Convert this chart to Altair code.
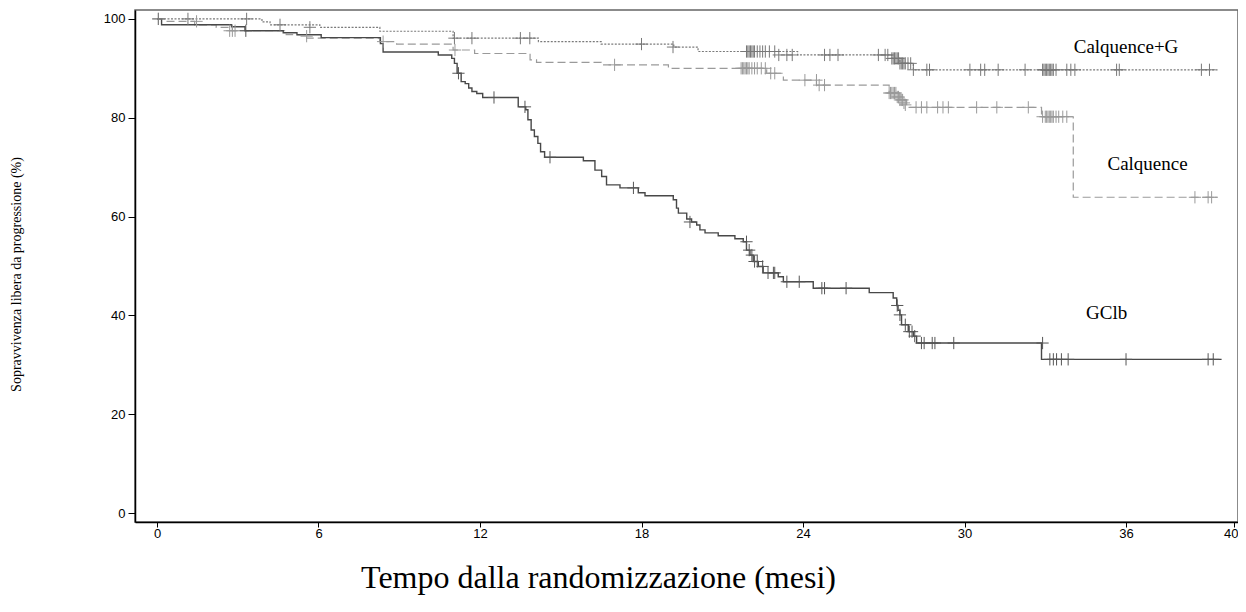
import altair as alt
import pandas as pd

# ---------------- data ----------------
X_TICKS = [0, 6, 12, 18, 24, 30, 36, 40]
Y_TICKS = [0, 20, 40, 60, 80, 100]

# GClb (solid)
gclb_t = [0, 0.17, 2.77, 3.27, 4.69, 5.2, 6.1, 8.3, 8.4, 10.45, 10.95, 11.05, 11.15,
          11.3, 11.45, 11.58, 11.7, 11.88, 12.1, 13.42, 13.7, 13.78, 13.9, 14.02,
          14.15, 14.25, 14.4, 15.84, 16.27, 16.52, 16.7, 17.2, 17.88, 18.13, 19.18,
          19.3, 19.37, 19.68, 19.86, 20.05, 20.17, 20.36, 20.85, 21.47, 21.78, 21.9,
          22.03, 22.15, 22.34, 22.52, 23.08, 23.27, 24.38, 26.46, 27.35, 27.48,
          27.53, 27.6, 27.66, 27.91, 28.1, 28.22, 32.86, 39.55]
gclb_s = [100, 98.8, 98.4, 97.6, 97.2, 96.8, 96.2, 95.0, 93.3, 92.7, 92.0, 91.0, 89.0,
          87.3, 86.9, 86.0, 85.3, 84.9, 84.1, 82.2, 81.6, 79.6, 77.5, 76.2,
          74.8, 73.1, 72.0, 71.3, 69.4, 68.1, 66.4, 65.8, 64.8, 64.2, 63.4,
          61.7, 60.7, 59.5, 58.9, 58.3, 57.3, 56.7, 56.1, 55.5, 54.9, 53.2,
          52.2, 50.9, 49.9, 48.6, 47.8, 46.8, 45.5, 44.6, 43.5, 42.0,
          41.0, 40.1, 38.1, 36.7, 35.8, 34.4, 31.1, 31.1]
gclb_cens_t = [3.3, 11.2, 12.52, 13.67, 14.6, 17.7, 19.8, 21.9, 22.0, 22.1, 22.2, 22.3,
               22.5, 22.7, 22.9, 22.95, 23.4, 23.86, 24.7, 24.8, 25.6, 27.5, 27.6, 27.8,
               27.95, 28.05, 28.15, 28.4, 28.5, 28.8, 28.9, 29.6, 32.9, 33.17, 33.3,
               33.42, 33.6, 33.85, 36.0, 39.05, 39.24]
gclb_cens_s = [97.6, 89.0, 84.1, 82.2, 72.0, 65.8, 58.9, 54.9, 53.2, 52.2, 50.9, 50.9,
               49.9, 48.6, 48.6, 48.6, 46.8, 46.8, 45.5, 45.5, 45.5, 42.0, 40.1, 38.1,
               36.7, 36.7, 35.8, 34.4, 34.4, 34.4, 34.4, 34.4, 34.4, 31.1, 31.1,
               31.1, 31.1, 31.1, 31.1, 31.1, 31.1]

# Calquence+G (dotted)
cg_t = [0, 3.9, 4.2, 6.05, 8.28, 11.0, 14.17, 16.5, 19.2, 20.1, 23.8, 27.3, 27.6, 28.1, 39.4]
cg_s = [100, 99.4, 98.8, 98.3, 97.5, 96.1, 95.4, 94.9, 94.3, 93.4, 92.7, 92.0, 91.0, 89.7, 89.7]
cg_cens_t = [0.05, 1.15, 3.33, 4.57, 5.68, 11.05, 11.7, 13.5, 13.85, 18.0, 19.17,
             21.9, 21.95, 22.0, 22.05, 22.1, 22.15, 22.2, 22.3, 22.4, 22.5, 22.6, 22.75,
             22.95, 23.1, 23.4, 23.6, 24.8, 25.0, 25.3, 26.8, 27.05, 27.15, 27.3, 27.35,
             27.4, 27.45, 27.5, 27.55, 27.6, 27.65, 27.7, 27.75, 27.8, 27.9, 28.0, 28.1,
             28.6, 28.7, 30.2, 30.6, 30.75, 31.25, 32.25, 32.9, 32.95, 33.0, 33.05,
             33.1, 33.15, 33.2, 33.25, 33.3, 33.4, 33.8, 33.95, 34.1, 35.65, 35.75,
             38.8, 39.1]
cg_cens_s = [100, 100, 100, 98.8, 98.3, 96.1, 96.1, 96.1, 96.1, 94.9, 94.3,
             93.4, 93.4, 93.4, 93.4, 93.4, 93.4, 93.4, 93.4, 93.4, 93.4, 93.4, 93.4,
             93.4, 92.7, 92.7, 92.7, 92.7, 92.7, 92.7, 92.7, 92.7, 92.7, 92.0, 92.0,
             92.0, 92.0, 92.0, 92.0, 91.0, 91.0, 91.0, 91.0, 91.0, 91.0, 91.0, 89.7,
             89.7, 89.7, 89.7, 89.7, 89.7, 89.7, 89.7, 89.7, 89.7, 89.7, 89.7,
             89.7, 89.7, 89.7, 89.7, 89.7, 89.7, 89.7, 89.7, 89.7, 89.7, 89.7,
             89.7, 89.7]

# Calquence (dashed)
cq_t = [0, 0.3, 1.4, 2.2, 2.8, 4.8, 5.56, 8.28, 8.9, 11.0, 11.8, 13.86, 14.1, 16.5,
        19.0, 22.65, 23.27, 24.5, 27.2, 27.6, 27.85, 32.86, 34.04, 39.4]
cq_s = [100, 99.5, 98.8, 98.3, 97.6, 96.8, 96.1, 95.4, 94.9, 93.7, 93.0, 91.7, 91.2, 90.7,
        90.0, 89.0, 87.6, 86.6, 85.0, 83.6, 82.1, 80.2, 63.9, 63.9]
cq_cens_t = [0.05, 1.47, 2.7, 2.8, 2.9, 5.56, 8.4, 11.07, 17.0,
             21.7, 21.75, 21.8, 21.85, 21.9, 21.95, 22.0, 22.1, 22.2, 22.3, 22.45, 22.6,
             22.8, 22.95, 24.07, 24.5, 24.6, 24.8,
             27.2, 27.25, 27.3, 27.35, 27.4, 27.45, 27.5, 27.55, 27.6, 27.65, 27.7, 27.75, 27.8,
             28.2, 28.4, 28.6, 29.0, 29.2, 29.4, 30.45, 31.2, 32.37,
             32.9, 33.0, 33.05, 33.1, 33.15, 33.2, 33.25, 33.3, 33.4, 33.5, 33.65, 33.8,
             38.56, 39.05, 39.18]
cq_cens_s = [100, 99.5, 97.6, 97.6, 97.6, 96.5, 95.4, 93.7, 90.7,
             90.0, 90.0, 90.0, 90.0, 90.0, 90.0, 90.0, 90.0, 90.0, 90.0, 90.0, 90.0,
             89.0, 89.0, 87.6, 87.6, 86.6, 86.6,
             85.0, 85.0, 85.0, 85.0, 85.0, 85.0, 84.2, 84.2, 83.6, 83.6, 83.6, 83.0, 82.6,
             82.1, 82.1, 82.1, 82.1, 82.1, 82.1, 82.1, 82.1, 82.1,
             80.2, 80.2, 80.2, 80.2, 80.2, 80.2, 80.2, 80.2, 80.2, 80.2, 80.2, 80.2,
             63.9, 63.9, 63.9]

label_names = ["Calquence+G", "Calquence", "GClb"]
label_t = [36.0, 36.8, 35.28]
label_s = [93.06, 69.4, 39.2]

# ---------------- chart ----------------
x_scale = alt.Scale(domain=[-0.817, 40.16], nice=False, zero=False)
y_scale = alt.Scale(domain=[-1.82, 101.8], nice=False, zero=False)

x_axis = alt.Axis(values=X_TICKS, title="Tempo dalla randomizzazione (mesi)",
                  titleFont="Liberation Serif", titleFontSize=32, titleFontWeight="normal",
                  titleColor="#000", titleX=463, titleY=65, titleBaseline="alphabetic",
                  titleAlign="center", tickSize=5, labelPadding=0, format="d",
                  labelOffset={"condition": {"test": "datum.value === 40", "value": -3},
                               "value": 0})
y_axis = alt.Axis(values=Y_TICKS, title="Sopravvivenza libera da progressione (%)",
                  titleFont="Liberation Serif", titleFontSize=14, titleFontWeight="normal",
                  titleColor="#000", titleX=-118.5, titleY=264, titleBaseline="middle",
                  titleAlign="center", tickSize=7, labelPadding=3, format="d")


def X():
    return alt.X("t:Q", scale=x_scale, axis=x_axis)


def Y():
    return alt.Y("s:Q", scale=y_scale, axis=y_axis)


def line_layer(t, s, color, width, dash=None):
    df = pd.DataFrame({"t": t, "s": s})
    kw = dict(interpolate="step-after", color=color, strokeWidth=width)
    if dash is not None:
        kw["strokeDash"] = dash
    return alt.Chart(df).mark_line(**kw).encode(x=X(), y=Y())


def cens_layer(t, s, color):
    df = pd.DataFrame({"t": t, "s": s})
    return alt.Chart(df).mark_point(shape="M-1,0L1,0M0,-1L0,1", size=150, filled=False,
                                    strokeWidth=1, color=color, opacity=1).encode(x=X(), y=Y())


lbl_df = pd.DataFrame({"t": label_t, "s": label_s, "name": label_names})
labels = alt.Chart(lbl_df).mark_text(font="Liberation Serif", fontSize=19, align="center",
                                     baseline="alphabetic", color="#000").encode(
    x=X(), y=Y(), text="name:N")

chart = alt.layer(
    line_layer(cq_t, cq_s, "#9a9a9a", 1.2, [8, 4]),
    line_layer(cg_t, cg_s, "#7a7a7a", 1.2, [2, 1.5]),
    line_layer(gclb_t, gclb_s, "#484848", 1.4),
    cens_layer(cq_cens_t, cq_cens_s, "#999999"),
    cens_layer(cg_cens_t, cg_cens_s, "#777777"),
    cens_layer(gclb_cens_t, gclb_cens_s, "#555555"),
    labels,
).properties(
    width=1103, height=512,
    autosize=alt.AutoSizeParams(type="none"),
    padding={"left": 127, "top": 2, "right": 0, "bottom": 80},
).configure_view(stroke="#666666", strokeWidth=1.5).configure_axis(
    grid=False, domainColor="#000", domainWidth=1.5, tickColor="#000",
    labelColor="#000", labelFont="Liberation Sans", labelFontSize=13,
)

chart.save("out.html", embed_options={"renderer": "svg", "actions": False})
